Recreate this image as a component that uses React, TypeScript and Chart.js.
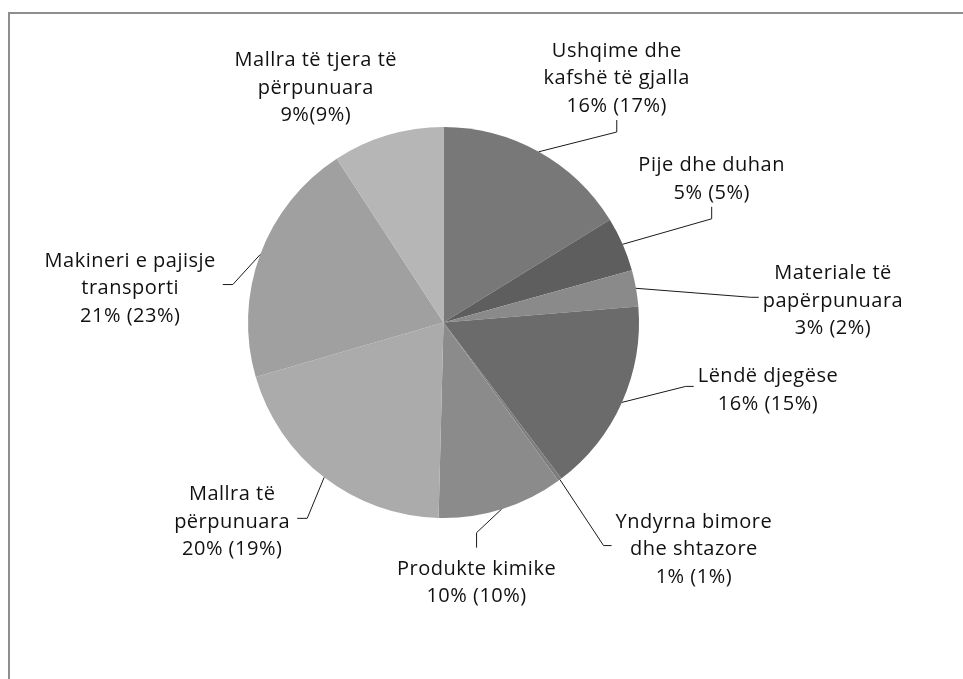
import React, { useEffect, useRef } from "react";
import { Chart, registerables } from "chart.js";

Chart.register(...registerables);

// ---- data ----
const categories: string[][] = [
  ["Ushqime dhe", "kafshë të gjalla"],
  ["Pije dhe duhan"],
  ["Materiale të", "papërpunuara"],
  ["Lëndë djegëse"],
  ["Yndyrna bimore", "dhe shtazore"],
  ["Produkte kimike"],
  ["Mallra të", "përpunuara"],
  ["Makineri e pajisje", "transporti"],
  ["Mallra të tjera të", "përpunuara"],
];
const shares: number[] = [16.2, 4.5, 3.0, 16.0, 0.3, 10.4, 20.1, 20.3, 9.2];
const valueLabels: string[] = [
  "16% (17%)",
  "5% (5%)",
  "3% (2%)",
  "16% (15%)",
  "1% (1%)",
  "10% (10%)",
  "20% (19%)",
  "21% (23%)",
  "9%(9%)",
];
const sliceColors: string[] = [
  "#787878",
  "#5e5e5e",
  "#8a8a8a",
  "#6b6b6b",
  "#7d7d7d",
  "#8b8b8b",
  "#ababab",
  "#a0a0a0",
  "#b6b6b6",
];

// label layout: block centre offset from the slice's outer mid point, and leader side
const labelLayout: { dx: number; dy: number; side: string }[] = [
  { dx: 78, dy: -75, side: "bottom" },
  { dx: 89, dy: -67, side: "bottom" },
  { dx: 197, dy: 11, side: "left" },
  { dx: 146, dy: -14, side: "left" },
  { dx: 134, dy: 68, side: "left" },
  { dx: -25, dy: 72, side: "top" },
  { dx: -92, dy: 43, side: "right" },
  { dx: -130, dy: 32, side: "right" },
  { dx: -72, dy: -49, side: "none" },
];

const FONT = '20px "Open Sans", "DejaVu Sans", sans-serif';
const LINE_H = 27.5;

const labelPlugin = {
  id: "sliceLabels",
  afterDatasetsDraw(chart: any) {
    const ctx: any = chart.ctx;
    const meta = chart.getDatasetMeta(0);
    ctx.save();
    ctx.font = FONT;
    try {
      ctx.letterSpacing = "0.5px";
    } catch (e) {}
    ctx.fillStyle = "#111111";
    ctx.strokeStyle = "#1a1a1a";
    ctx.lineWidth = 1;
    ctx.textAlign = "center";
    ctx.textBaseline = "alphabetic";
    meta.data.forEach((arc: any, i: number) => {
      const p = arc.getProps(["x", "y", "startAngle", "endAngle", "outerRadius"], true);
      const mid = (p.startAngle + p.endAngle) / 2;
      const ax = p.x + p.outerRadius * Math.cos(mid);
      const ay = p.y + p.outerRadius * Math.sin(mid);
      const lay = labelLayout[i];
      const lines = [...categories[i], valueLabels[i]];
      const bx = ax + lay.dx;
      const by = ay + lay.dy;
      const h = lines.length * LINE_H;
      let w = 0;
      lines.forEach((l) => {
        w = Math.max(w, ctx.measureText(l).width);
      });
      lines.forEach((l, k) => {
        const cy = by + (k - (lines.length - 1) / 2) * LINE_H;
        ctx.fillText(l, bx, cy + 7.5);
      });
      let elbow: number[] | null = null;
      let end: number[] | null = null;
      if (lay.side === "bottom") {
        elbow = [bx, by + h / 2 + 14];
        end = [bx, by + h / 2 + 2];
      } else if (lay.side === "top") {
        elbow = [bx, by - h / 2 - 21];
        end = [bx, by - h / 2 - 6];
      } else if (lay.side === "left") {
        elbow = [bx - w / 2 - 12, by - 2];
        end = [bx - w / 2 - 4, by - 2];
      } else if (lay.side === "right") {
        elbow = [bx + w / 2 + 17, by - 2];
        end = [bx + w / 2 + 7, by - 2];
      }
      if (elbow && end) {
        ctx.beginPath();
        ctx.moveTo(ax, ay);
        ctx.lineTo(elbow[0], elbow[1]);
        ctx.lineTo(end[0], end[1]);
        ctx.stroke();
      }
    });
    ctx.restore();
  },
};

export default function App() {
  const ref = useRef<HTMLCanvasElement | null>(null);
  useEffect(() => {
    if (!ref.current) return;
    const chart = new Chart(ref.current, {
      type: "pie",
      data: {
        labels: categories.map((c) => c.join(" ")),
        datasets: [
          {
            data: shares,
            backgroundColor: sliceColors,
            borderWidth: 0,
          },
        ],
      },
      options: {
        responsive: false,
        animation: false,
        layout: { padding: { left: 248, top: 127, right: 324, bottom: 161 } },
        plugins: {
          legend: { display: false },
          tooltip: { enabled: false },
        },
      },
      plugins: [labelPlugin],
    });
    return () => chart.destroy();
  }, []);
  return (
    <div>
      <div
        style={{
          position: "fixed",
          left: 8,
          top: 12,
          width: 955,
          height: 667,
          borderTop: "2px solid #8e8e8e",
          borderLeft: "2px solid #8e8e8e",
          boxSizing: "border-box",
        }}
      />
      <canvas
        ref={ref}
        width={963}
        height={679}
        style={{ position: "fixed", left: 0, top: 0, width: 963, height: 679 }}
      />
    </div>
  );
}
